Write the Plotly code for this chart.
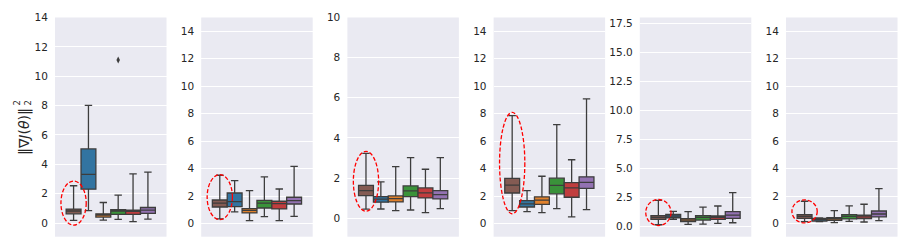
import plotly.graph_objects as go

# Hue order: brown, blue, orange, green, red, purple
METHODS = ["M0", "M1", "M2", "M3", "M4", "M5"]
COLORS = ["#845b53", "#3274a1", "#e1812c", "#3a923a", "#c03d3e", "#9372b2"]

# Per-panel box statistics (lower whisker, Q1, median, Q3, upper whisker)
P1_LO = [0.18, 0.84, 0.20, 0.25, 0.09, 0.27]
P1_Q1 = [0.63, 2.31, 0.41, 0.59, 0.59, 0.66]
P1_MED = [0.82, 3.31, 0.54, 0.82, 0.79, 0.88]
P1_Q3 = [0.95, 5.05, 0.63, 0.91, 0.88, 1.06]
P1_HI = [2.54, 8.02, 1.40, 1.90, 3.35, 3.47]

P2_LO = [0.34, 0.85, 0.22, 0.51, 0.22, 0.53]
P2_Q1 = [1.21, 1.24, 0.78, 1.14, 1.07, 1.43]
P2_MED = [1.50, 1.60, 0.97, 1.50, 1.46, 1.67]
P2_Q3 = [1.72, 2.23, 1.09, 1.70, 1.63, 1.92]
P2_HI = [3.52, 3.13, 2.40, 3.40, 2.52, 4.17]

P3_LO = [0.45, 0.46, 0.38, 0.41, 0.28, 0.48]
P3_Q1 = [1.13, 0.80, 0.81, 1.08, 1.01, 0.96]
P3_MED = [1.38, 0.95, 0.98, 1.36, 1.26, 1.18]
P3_Q3 = [1.64, 1.08, 1.11, 1.61, 1.51, 1.38]
P3_HI = [3.23, 1.81, 2.57, 3.02, 2.44, 3.02]

P4_LO = [0.95, 0.87, 0.80, 1.09, 0.49, 1.02]
P4_Q1 = [2.23, 1.21, 1.40, 2.17, 1.92, 2.57]
P4_MED = [2.80, 1.44, 1.71, 2.79, 2.60, 3.00]
P4_Q3 = [3.30, 1.67, 1.95, 3.31, 2.99, 3.41]
P4_HI = [7.86, 2.40, 3.45, 7.21, 4.65, 9.08]

P5_LO = [0.17, 0.63, 0.20, 0.23, 0.29, 0.34]
P5_Q1 = [0.63, 0.77, 0.43, 0.57, 0.63, 0.72]
P5_MED = [0.80, 0.92, 0.57, 0.80, 0.80, 1.00]
P5_Q3 = [0.95, 1.06, 0.69, 0.95, 0.92, 1.29]
P5_HI = [2.27, 1.32, 1.29, 1.69, 1.78, 2.93]

P6_LO = [0.15, 0.15, 0.07, 0.17, 0.12, 0.22]
P6_Q1 = [0.39, 0.19, 0.24, 0.34, 0.36, 0.49]
P6_MED = [0.53, 0.29, 0.34, 0.53, 0.49, 0.70]
P6_Q3 = [0.66, 0.39, 0.44, 0.66, 0.61, 0.92]
P6_HI = [1.63, 0.41, 0.95, 1.29, 1.41, 2.55]

# Outliers: (panel index, hue index, value)
OUTLIERS = [(0, 3, 11.1)]

PANELS = [
    (P1_LO, P1_Q1, P1_MED, P1_Q3, P1_HI),
    (P2_LO, P2_Q1, P2_MED, P2_Q3, P2_HI),
    (P3_LO, P3_Q1, P3_MED, P3_Q3, P3_HI),
    (P4_LO, P4_Q1, P4_MED, P4_Q3, P4_HI),
    (P5_LO, P5_Q1, P5_MED, P5_Q3, P5_HI),
    (P6_LO, P6_Q1, P6_MED, P6_Q3, P6_HI),
]

Y_RANGES = [[-0.93, 14.0], [-0.95, 15.0], [-0.92, 10.0],
            [-0.95, 15.0], [-0.86, 18.0], [-0.95, 15.0]]
Y_DTICK = [2, 2, 2, 2, 2.5, 2]
Y_FMT = ["d", "d", "d", "d", ".1f", "d"]
ELLIPSE_PAD = [0.32, 0.05, 0.10, 0.23, 0.07, 0.10]

W, H = 911, 251
LEFT0, PITCH, PW = 55.0, 146.2, 111.5
TOP, BOTTOM = 17.5, 236.7
LINE = "#3d3d3d"
TXT = "#262626"

n = len(METHODS)
group_w = 0.8
bw = group_w / n
positions = [-group_w / 2 + bw * (i + 0.5) for i in range(n)]

fig = go.Figure()
layout = {}
shapes = []
for p, (lo, q1, med, q3, hi) in enumerate(PANELS):
    xa = "x" if p == 0 else f"x{p+1}"
    ya = "y" if p == 0 else f"y{p+1}"
    for i in range(n):
        fig.add_trace(go.Box(
            x=[positions[i]], q1=[q1[i]], median=[med[i]], q3=[q3[i]],
            lowerfence=[lo[i]], upperfence=[hi[i]],
            orientation="v", width=bw, whiskerwidth=0.5,
            fillcolor=COLORS[i], line=dict(color=LINE, width=1.3),
            boxpoints=False, name=METHODS[i], showlegend=False,
            xaxis=xa, yaxis=ya,
        ))
    for (pi, hi_idx, val) in OUTLIERS:
        if pi == p:
            fig.add_trace(go.Scatter(
                x=[positions[hi_idx]], y=[val], mode="markers",
                marker=dict(symbol="diamond-tall", size=5, color=LINE),
                showlegend=False, xaxis=xa, yaxis=ya))
    left = LEFT0 + PITCH * p
    dom_x = [left / W, (left + PW) / W]
    dom_y = [1 - BOTTOM / H, 1 - TOP / H]
    key = "" if p == 0 else str(p + 1)
    layout["xaxis" + key] = dict(
        domain=dom_x, range=[-0.5, 0.5], showticklabels=False, showgrid=False,
        zeroline=False, showline=False, ticks="", anchor=ya, automargin=False)
    layout["yaxis" + key] = dict(
        domain=dom_y, range=Y_RANGES[p], dtick=Y_DTICK[p], tick0=0,
        tickformat=Y_FMT[p], showgrid=True, gridcolor="white", gridwidth=1,
        zeroline=False, showline=False, ticks="outside", ticklen=4,
        tickcolor="rgba(0,0,0,0)", automargin=False,
        tickfont=dict(family="DejaVu Sans", size=10.5, color=TXT), anchor=xa)
    # red dashed ellipse around the first (brown) box
    ex = bw * 0.85
    shapes.append(dict(
        type="circle", xref=xa, yref=ya,
        x0=positions[0] - ex, x1=positions[0] + ex,
        y0=lo[0] - ELLIPSE_PAD[p], y1=hi[0] + ELLIPSE_PAD[p],
        line=dict(color="#ff0000", width=1.3, dash="4px,2px"),
        layer="above"))

annotations = [
    dict(text="‖∇<i>J</i>(<i>θ</i>)‖", xref="paper", yref="paper",
         x=24 / W, y=1 - 132 / H, xanchor="center", yanchor="middle",
         textangle=-90, showarrow=False,
         font=dict(family="DejaVu Sans", size=14, color=TXT)),
    dict(text="2<br>2", xref="paper", yref="paper",
         x=21.5 / W, y=1 - 103 / H, xanchor="center", yanchor="middle",
         textangle=-90, showarrow=False,
         font=dict(family="DejaVu Sans", size=8.5, color=TXT)),
]

fig.update_layout(
    width=W, height=H, margin=dict(l=0, r=0, t=0, b=0),
    paper_bgcolor="white", plot_bgcolor="#eaeaf2",
    boxmode="overlay", shapes=shapes, annotations=annotations,
    **layout,
)
fig.write_html("out.html",
               config={"displayModeBar": False},
               post_script="document.body.style.margin='0px';"
                           "document.body.style.overflow='hidden';")
